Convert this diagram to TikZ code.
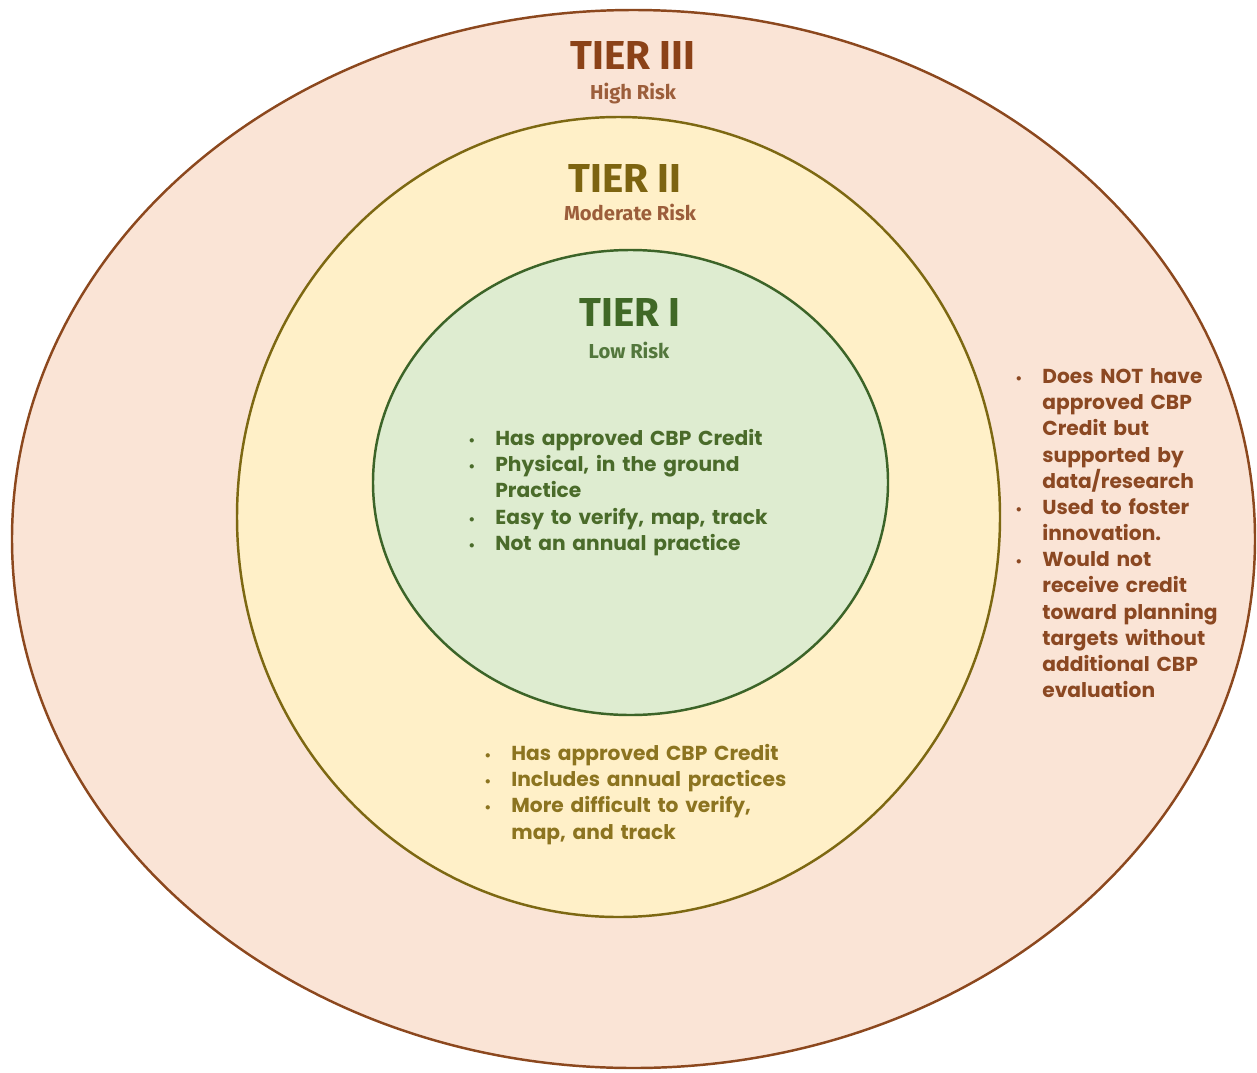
\documentclass[tikz,border=0pt]{standalone}
\usepackage{fontspec}
\setmainfont{Poppins}
\newfontfamily\tierfont{Fira Sans}
\usepackage{enumitem}
\usetikzlibrary{positioning}
\definecolor{OuterFill}{RGB}{250,228,214}
\definecolor{OuterLine}{RGB}{140,72,30}
\definecolor{MidFill}{RGB}{255,240,200}
\definecolor{MidLine}{RGB}{125,104,18}
\definecolor{InnerFill}{RGB}{222,236,208}
\definecolor{InnerLine}{RGB}{60,100,40}
\definecolor{BrownTxt}{RGB}{139,66,24}
\definecolor{OliveTxt}{RGB}{125,100,16}
\definecolor{GreenTxt}{RGB}{64,104,38}
\definecolor{BulletBrown}{RGB}{139,72,34}
\definecolor{BulletOlive}{RGB}{140,116,32}
\definecolor{BulletGreen}{RGB}{74,107,42}

\newcommand{\tierlist}[1]{%
  \begin{itemize}[leftmargin=0.54cm,labelsep=0.40cm,label={\footnotesize\textbullet},
    itemsep=0pt,topsep=0pt,parsep=0pt,partopsep=0pt]
  #1
  \end{itemize}}

\begin{document}
\begin{tikzpicture}[x=0.02cm,y=0.02cm,
  tiertitle/.style={font=\tierfont\bfseries\fontsize{23}{26}\selectfont, inner sep=0},
  tierrisk/.style={font=\tierfont\bfseries\fontsize{11.5}{14}\selectfont, inner sep=0},
  bullets/.style={font=\bfseries\fontsize{11.5}{14.9}\selectfont, align=left,
    text width=9cm, anchor=north west, inner sep=0}]
\useasboundingbox (0,0) rectangle (1257,-1072);

% the three tiers
\draw[line width=1.4pt, draw=OuterLine, fill=OuterFill] (633.5,-539) ellipse [x radius=621.5, y radius=529];
\draw[line width=1.4pt, draw=MidLine, fill=MidFill] (618.5,-517) ellipse [x radius=381.5, y radius=400];
\draw[line width=1.4pt, draw=InnerLine, fill=InnerFill] (630.5,-482.5) ellipse [x radius=257.5, y radius=232.5];

% titles
\node[tiertitle, text=BrownTxt] (tierthree) at (633,-55) {TIER III};
\node[tierrisk, text=BrownTxt!85] (highrisk) at (633,-94) {High Risk};
\node[tiertitle, text=OliveTxt] (tiertwo) at (625,-178) {TIER II};
\node[tierrisk, text=BrownTxt!85] (modrisk) at (630,-212) {Moderate Risk};
\node[tiertitle, text=GreenTxt] (tierone) at (630,-312) {TIER I};
\node[tierrisk, text=GreenTxt!90] (lowrisk) at (629,-350) {Low Risk};

% bullet lists
\node[bullets, text=BulletGreen] (inlist) at (468,-419) {\tierlist{
  \item Has approved CBP Credit
  \item Physical, in the ground\newline Practice
  \item Easy to verify, map, track
  \item Not an annual practice}};
\node[bullets, text=BulletOlive] (midlist) at (484,-734) {\tierlist{
  \item Has approved CBP Credit
  \item Includes annual practices
  \item More difficult to verify,\newline map, and track}};
\node[bullets, text=BulletBrown] (outlist) at (1015,-357) {\tierlist{
  \item Does NOT have\newline approved CBP\newline Credit but\newline supported by\newline data/research
  \item Used to foster\newline innovation.
  \item Would not\newline receive credit\newline toward planning\newline targets without\newline additional CBP\newline evaluation}};
\end{tikzpicture}
\end{document}
